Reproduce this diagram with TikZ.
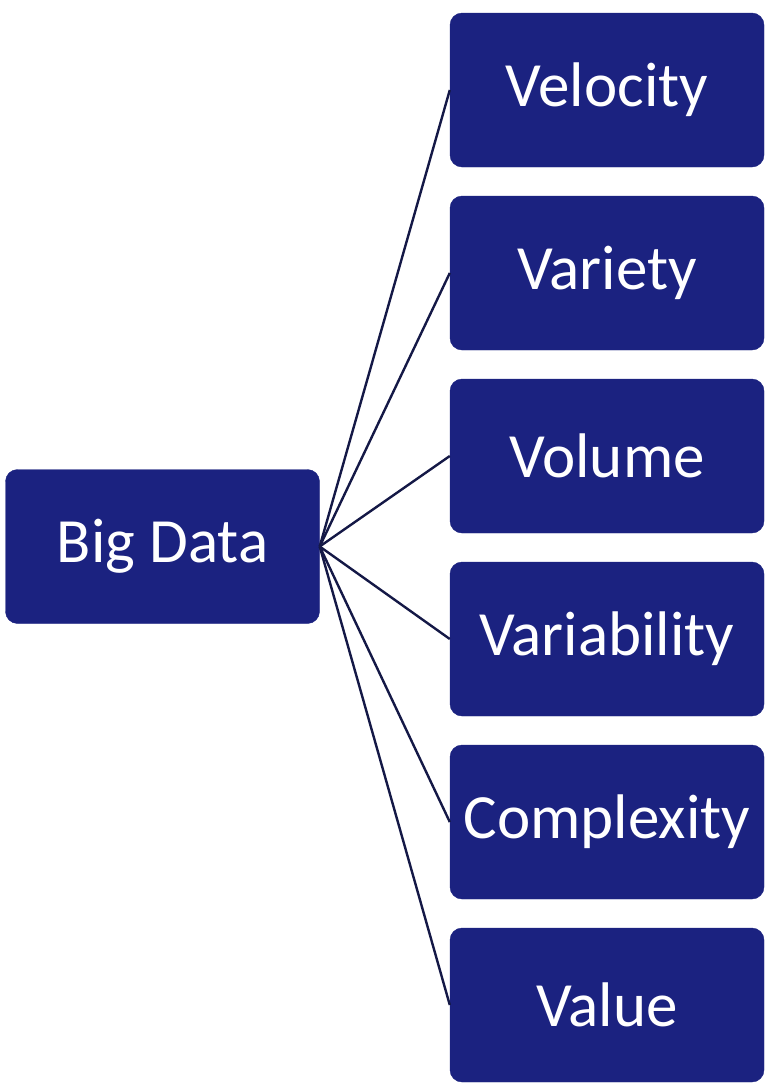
\documentclass[tikz,border=0pt]{standalone}
\usepackage{fontspec}
\setmainfont{Carlito}
\definecolor{navy}{RGB}{27,34,128}
\definecolor{linec}{RGB}{20,24,70}
\begin{document}
\begin{tikzpicture}[x=1pt,y=-1pt,
  box/.style={fill=navy, draw=navy, rounded corners=12pt, minimum width=314pt, minimum height=154pt, inner sep=0pt, text=white, font=\fontsize{63}{74}\selectfont},
  conn/.style={draw=linec, line width=2.4pt}]
\useasboundingbox (0,0) rectangle (771,1087);
\node[box] (bd) at (162.5,546.5) {Big Data};
\node[box] (v1) at (607,90) {Velocity};
\node[box] (v2) at (607,273) {Variety};
\node[box] (v3) at (607,456) {Volume};
\node[box] (v4) at (607,639) {Variability};
\node[box] (v5) at (607,822) {Complexity};
\node[box] (v6) at (607,1005) {Value};
\foreach \n in {v1,v2,v3,v4,v5,v6} \draw[conn] (bd.east) -- (\n.west);
\end{tikzpicture}
\end{document}
